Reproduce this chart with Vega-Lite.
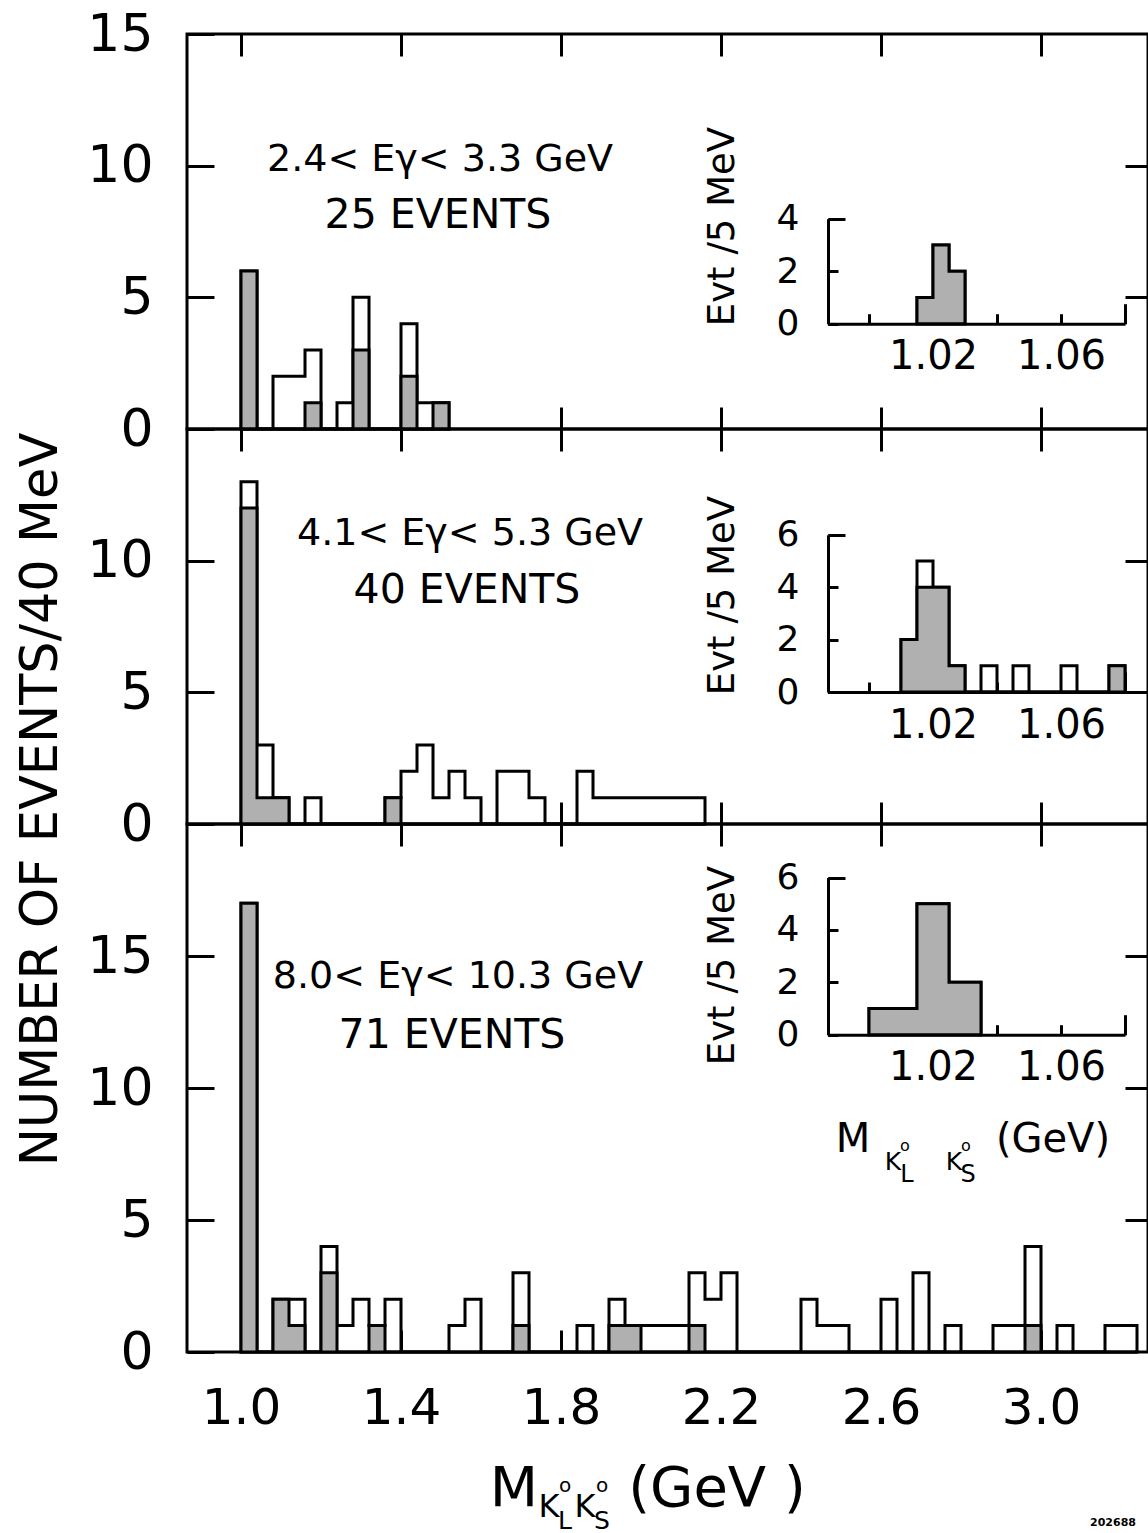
{
  "$schema": "https://vega.github.io/schema/vega-lite/v6.json",
  "background": "white",
  "padding": {"left": 13, "top": 6, "right": 0, "bottom": 0},
  "bounds": "flush",
  "spacing": 0,
  "config": {
    "font": "DejaVu Sans",
    "view": {"stroke": "black", "strokeWidth": 3},
    "axis": {"grid": false, "domain": false, "tickColor": "black", "tickWidth": 3, "labelColor": "black", "titleColor": "black", "labelFont": "DejaVu Sans", "titleFont": "DejaVu Sans", "titleFontWeight": "normal", "domainColor": "black", "domainWidth": 3, "labelOverlap": false, "labelFlush": false},
    "text": {"fill": "black"}
  },
  "datasets": {
    "p1": [
      {"m": 1.00, "total": 6, "shaded": 6}, {"m": 1.04, "total": 0, "shaded": 0}, {"m": 1.08, "total": 2, "shaded": 0}, {"m": 1.12, "total": 2, "shaded": 0},
      {"m": 1.16, "total": 3, "shaded": 1}, {"m": 1.20, "total": 0, "shaded": 0}, {"m": 1.24, "total": 1, "shaded": 0}, {"m": 1.28, "total": 5, "shaded": 3},
      {"m": 1.32, "total": 0, "shaded": 0}, {"m": 1.40, "total": 4, "shaded": 2}, {"m": 1.44, "total": 1, "shaded": 0}, {"m": 1.48, "total": 1, "shaded": 1},
      {"m": 1.52, "total": 0, "shaded": 0}
    ],
    "p2": [
      {"m": 1.00, "total": 13, "shaded": 12}, {"m": 1.04, "total": 3, "shaded": 1}, {"m": 1.08, "total": 1, "shaded": 1}, {"m": 1.12, "total": 0, "shaded": 0},
      {"m": 1.16, "total": 1, "shaded": 0}, {"m": 1.20, "total": 0, "shaded": 0}, {"m": 1.36, "total": 1, "shaded": 1}, {"m": 1.40, "total": 2, "shaded": 0},
      {"m": 1.44, "total": 3, "shaded": 0}, {"m": 1.48, "total": 1, "shaded": 0}, {"m": 1.52, "total": 2, "shaded": 0}, {"m": 1.56, "total": 1, "shaded": 0},
      {"m": 1.60, "total": 0, "shaded": 0}, {"m": 1.64, "total": 2, "shaded": 0}, {"m": 1.68, "total": 2, "shaded": 0}, {"m": 1.72, "total": 1, "shaded": 0},
      {"m": 1.76, "total": 0, "shaded": 0}, {"m": 1.84, "total": 2, "shaded": 0}, {"m": 1.88, "total": 1, "shaded": 0}, {"m": 1.92, "total": 1, "shaded": 0},
      {"m": 1.96, "total": 1, "shaded": 0}, {"m": 2.00, "total": 1, "shaded": 0}, {"m": 2.04, "total": 1, "shaded": 0}, {"m": 2.08, "total": 1, "shaded": 0},
      {"m": 2.12, "total": 1, "shaded": 0}, {"m": 2.16, "total": 0, "shaded": 0}
    ],
    "p3": [
      {"m": 1.00, "total": 17, "shaded": 17}, {"m": 1.04, "total": 0, "shaded": 0}, {"m": 1.08, "total": 2, "shaded": 2}, {"m": 1.12, "total": 2, "shaded": 1},
      {"m": 1.16, "total": 0, "shaded": 0}, {"m": 1.20, "total": 4, "shaded": 3}, {"m": 1.24, "total": 1, "shaded": 0}, {"m": 1.28, "total": 2, "shaded": 0},
      {"m": 1.32, "total": 1, "shaded": 1}, {"m": 1.36, "total": 2, "shaded": 0}, {"m": 1.40, "total": 0, "shaded": 0}, {"m": 1.52, "total": 1, "shaded": 0},
      {"m": 1.56, "total": 2, "shaded": 0}, {"m": 1.60, "total": 0, "shaded": 0}, {"m": 1.68, "total": 3, "shaded": 1}, {"m": 1.72, "total": 0, "shaded": 0},
      {"m": 1.84, "total": 1, "shaded": 0}, {"m": 1.88, "total": 0, "shaded": 0}, {"m": 1.92, "total": 2, "shaded": 1}, {"m": 1.96, "total": 1, "shaded": 1},
      {"m": 2.00, "total": 1, "shaded": 0}, {"m": 2.04, "total": 1, "shaded": 0}, {"m": 2.08, "total": 1, "shaded": 0}, {"m": 2.12, "total": 3, "shaded": 1},
      {"m": 2.16, "total": 2, "shaded": 0}, {"m": 2.20, "total": 3, "shaded": 0}, {"m": 2.24, "total": 0, "shaded": 0}, {"m": 2.40, "total": 2, "shaded": 0},
      {"m": 2.44, "total": 1, "shaded": 0}, {"m": 2.48, "total": 1, "shaded": 0}, {"m": 2.52, "total": 0, "shaded": 0}, {"m": 2.60, "total": 2, "shaded": 0},
      {"m": 2.64, "total": 0, "shaded": 0}, {"m": 2.68, "total": 3, "shaded": 0}, {"m": 2.72, "total": 0, "shaded": 0}, {"m": 2.76, "total": 1, "shaded": 0},
      {"m": 2.80, "total": 0, "shaded": 0}, {"m": 2.88, "total": 1, "shaded": 0}, {"m": 2.92, "total": 1, "shaded": 0}, {"m": 2.96, "total": 4, "shaded": 1},
      {"m": 3.00, "total": 0, "shaded": 0}, {"m": 3.04, "total": 1, "shaded": 0}, {"m": 3.08, "total": 0, "shaded": 0}, {"m": 3.16, "total": 1, "shaded": 0},
      {"m": 3.20, "total": 1, "shaded": 0}, {"m": 3.24, "total": 0, "shaded": 0}
    ],
    "i1": [
      {"m": 1.015, "total": 1, "shaded": 1}, {"m": 1.020, "total": 3, "shaded": 3}, {"m": 1.025, "total": 2, "shaded": 2}, {"m": 1.030, "total": 0, "shaded": 0}
    ],
    "i2": [
      {"m": 1.010, "total": 2, "shaded": 2}, {"m": 1.015, "total": 5, "shaded": 4}, {"m": 1.020, "total": 4, "shaded": 4}, {"m": 1.025, "total": 1, "shaded": 1},
      {"m": 1.030, "total": 0, "shaded": 0}, {"m": 1.035, "total": 1, "shaded": 0}, {"m": 1.040, "total": 0, "shaded": 0}, {"m": 1.045, "total": 1, "shaded": 0},
      {"m": 1.050, "total": 0, "shaded": 0}, {"m": 1.060, "total": 1, "shaded": 0}, {"m": 1.065, "total": 0, "shaded": 0}, {"m": 1.075, "total": 1, "shaded": 1},
      {"m": 1.080, "total": 0, "shaded": 0}
    ],
    "i3": [
      {"m": 1.000, "total": 1, "shaded": 1}, {"m": 1.005, "total": 1, "shaded": 1}, {"m": 1.010, "total": 1, "shaded": 1}, {"m": 1.015, "total": 5, "shaded": 5},
      {"m": 1.020, "total": 5, "shaded": 5}, {"m": 1.025, "total": 2, "shaded": 2}, {"m": 1.030, "total": 2, "shaded": 2}, {"m": 1.035, "total": 0, "shaded": 0}
    ]
  },
  "vconcat": [
    {
      "width": 961, "height": 395,
      "layer": [
        {
          "layer": [
            {"data": {"name": "p1"}, "mark": {"type": "area", "interpolate": "step-after", "fill": "white", "stroke": "black", "strokeWidth": 3},
             "encoding": {
               "x": {"field": "m", "type": "quantitative", "scale": {"domain": [0.865, 3.2675], "nice": false, "zero": false}, "axis": {"orient": "bottom", "values": [1.0, 1.4, 1.8, 2.2, 2.6, 3.0], "tickSize": -22, "labels": false, "title": null}},
               "y": {"field": "total", "type": "quantitative", "stack": null, "scale": {"domain": [0, 15], "nice": false}, "axis": {"orient": "left", "values": [0, 5, 10, 15], "tickSize": -27, "labelFontSize": 52, "labelPadding": 61, "title": null}}
             }},
            {"data": {"name": "p1"}, "mark": {"type": "area", "interpolate": "step-after", "fill": "#b0b0b0", "stroke": "black", "strokeWidth": 3},
             "encoding": {
               "x": {"field": "m", "type": "quantitative", "axis": {"orient": "top", "values": [1.0, 1.4, 1.8, 2.2, 2.6, 3.0], "tickSize": -22, "labels": false, "title": null}},
               "y": {"field": "shaded", "type": "quantitative", "stack": null, "axis": {"orient": "right", "values": [5, 10], "tickSize": -23, "labels": false, "title": null}}
             }},
            {"data": {"values": [{}]}, "mark": {"type": "text", "text": "2.4< Eγ< 3.3 GeV", "fontSize": 38, "align": "center", "baseline": "alphabetic"},
             "encoding": {"x": {"datum": 1.4975, "type": "quantitative", "axis": null}, "y": {"datum": 9.79, "type": "quantitative", "axis": null}}},
            {"data": {"values": [{}]}, "mark": {"type": "text", "text": "25 EVENTS", "fontSize": 41, "align": "center", "baseline": "alphabetic"},
             "encoding": {"x": {"datum": 1.4925, "type": "quantitative", "axis": null}, "y": {"datum": 7.64, "type": "quantitative", "axis": null}}}
          ],
          "resolve": {"axis": {"x": "independent", "y": "independent"}}
        },
        {
          "layer": [
            {"data": {"name": "i1"}, "mark": {"type": "area", "interpolate": "step-after", "fill": "white", "stroke": "black", "strokeWidth": 3},
             "encoding": {
               "x": {"field": "m", "type": "quantitative", "scale": {"domain": [0.987, 1.08], "range": [640.4, 938], "nice": false, "zero": false}, "axis": {"orient": "bottom", "offset": -105.3, "values": [1.0, 1.02, 1.04, 1.06, 1.08], "tickSize": -10, "domain": true, "labelFontSize": 40, "labelPadding": 23, "labelExpr": "datum.value == 1.02 || datum.value == 1.06 ? format(datum.value, '.2f') : ''", "title": null}},
               "y": {"field": "total", "type": "quantitative", "stack": null, "scale": {"domain": [0, 4], "range": [289.7, 184.7], "nice": false}, "axis": {"orient": "left", "offset": -641, "values": [0, 2, 4], "tickSize": -10, "domain": true, "labelFontSize": 36, "labelPadding": 39, "title": "Evt /5 MeV", "titleFontSize": 37, "titleX": -106, "titleY": 192, "titleAngle": -90, "titleAlign": "center", "titleBaseline": "middle"}}
             }},
            {"data": {"name": "i1"}, "mark": {"type": "area", "interpolate": "step-after", "fill": "#b0b0b0", "stroke": "black", "strokeWidth": 3},
             "encoding": {
               "x": {"field": "m", "type": "quantitative", "axis": {"orient": "bottom", "offset": -105.3, "values": [1.08], "tickSize": -20, "labels": false, "title": null}},
               "y": {"field": "shaded", "type": "quantitative", "stack": null, "axis": {"orient": "left", "offset": -641, "values": [4], "tickSize": -17, "labels": false, "title": null}}
             }}
          ],
          "resolve": {"axis": {"x": "independent", "y": "independent"}}
        }
      ],
      "resolve": {"scale": {"x": "independent", "y": "independent"}, "axis": {"x": "independent", "y": "independent"}}
    },
    {
      "width": 961, "height": 395,
      "layer": [
        {
          "layer": [
            {"data": {"name": "p2"}, "mark": {"type": "area", "interpolate": "step-after", "fill": "white", "stroke": "black", "strokeWidth": 3},
             "encoding": {
               "x": {"field": "m", "type": "quantitative", "scale": {"domain": [0.865, 3.2675], "nice": false, "zero": false}, "axis": {"orient": "bottom", "values": [1.0, 1.4, 1.8, 2.2, 2.6, 3.0], "tickSize": -22, "labels": false, "title": null}},
               "y": {"field": "total", "type": "quantitative", "stack": null, "scale": {"domain": [0, 15], "nice": false}, "axis": {"orient": "left", "values": [0, 5, 10], "tickSize": -27, "labelFontSize": 52, "labelPadding": 61, "title": "NUMBER OF EVENTS/40 MeV", "titleFontSize": 51, "titleX": -146, "titleY": 370, "titleAngle": -90, "titleAlign": "center", "titleBaseline": "middle"}}
             }},
            {"data": {"name": "p2"}, "mark": {"type": "area", "interpolate": "step-after", "fill": "#b0b0b0", "stroke": "black", "strokeWidth": 3},
             "encoding": {
               "x": {"field": "m", "type": "quantitative", "axis": {"orient": "top", "values": [1.0, 1.4, 1.8, 2.2, 2.6, 3.0], "tickSize": -22, "labels": false, "title": null}},
               "y": {"field": "shaded", "type": "quantitative", "stack": null, "axis": {"orient": "right", "values": [5, 10], "tickSize": -23, "labels": false, "title": null}}
             }},
            {"data": {"values": [{}]}, "mark": {"type": "text", "text": "4.1< Eγ< 5.3 GeV", "fontSize": 38, "align": "center", "baseline": "alphabetic"},
             "encoding": {"x": {"datum": 1.5725, "type": "quantitative", "axis": null}, "y": {"datum": 10.6, "type": "quantitative", "axis": null}}},
            {"data": {"values": [{}]}, "mark": {"type": "text", "text": "40 EVENTS", "fontSize": 41, "align": "center", "baseline": "alphabetic"},
             "encoding": {"x": {"datum": 1.565, "type": "quantitative", "axis": null}, "y": {"datum": 8.4, "type": "quantitative", "axis": null}}}
          ],
          "resolve": {"axis": {"x": "independent", "y": "independent"}}
        },
        {
          "layer": [
            {"data": {"name": "i2"}, "mark": {"type": "area", "interpolate": "step-after", "fill": "white", "stroke": "black", "strokeWidth": 3},
             "encoding": {
               "x": {"field": "m", "type": "quantitative", "scale": {"domain": [0.987, 1.08], "range": [640.4, 938], "nice": false, "zero": false}, "axis": {"orient": "bottom", "offset": -132, "values": [1.0, 1.02, 1.04, 1.06, 1.08], "tickSize": -10, "domain": true, "labelFontSize": 40, "labelPadding": 23, "labelExpr": "datum.value == 1.02 || datum.value == 1.06 ? format(datum.value, '.2f') : ''", "title": null}},
               "y": {"field": "total", "type": "quantitative", "stack": null, "scale": {"domain": [0, 6], "range": [263, 105.8], "nice": false}, "axis": {"orient": "left", "offset": -641, "values": [0, 2, 4, 6], "tickSize": -10, "domain": true, "labelFontSize": 36, "labelPadding": 39, "title": "Evt /5 MeV", "titleFontSize": 37, "titleX": -106, "titleY": 166, "titleAngle": -90, "titleAlign": "center", "titleBaseline": "middle"}}
             }},
            {"data": {"name": "i2"}, "mark": {"type": "area", "interpolate": "step-after", "fill": "#b0b0b0", "stroke": "black", "strokeWidth": 3},
             "encoding": {
               "x": {"field": "m", "type": "quantitative", "axis": {"orient": "bottom", "offset": -132, "values": [1.08], "tickSize": -20, "labels": false, "title": null}},
               "y": {"field": "shaded", "type": "quantitative", "stack": null, "axis": {"orient": "left", "offset": -641, "values": [6], "tickSize": -17, "labels": false, "title": null}}
             }}
          ],
          "resolve": {"axis": {"x": "independent", "y": "independent"}}
        }
      ],
      "resolve": {"scale": {"x": "independent", "y": "independent"}, "axis": {"x": "independent", "y": "independent"}}
    },
    {
      "width": 961, "height": 528,
      "layer": [
        {
          "layer": [
            {"data": {"name": "p3"}, "mark": {"type": "area", "interpolate": "step-after", "fill": "white", "stroke": "black", "strokeWidth": 3},
             "encoding": {
               "x": {"field": "m", "type": "quantitative", "scale": {"domain": [0.865, 3.2675], "nice": false, "zero": false}, "axis": {"orient": "bottom", "values": [1.0, 1.4, 1.8, 2.2, 2.6, 3.0], "tickSize": -22, "labelFontSize": 50, "labelPadding": 53, "format": ".1f", "title": null}},
               "y": {"field": "total", "type": "quantitative", "stack": null, "scale": {"domain": [0, 20], "nice": false}, "axis": {"orient": "left", "values": [0, 5, 10, 15], "tickSize": -27, "labelFontSize": 52, "labelPadding": 61, "title": null}}
             }},
            {"data": {"name": "p3"}, "mark": {"type": "area", "interpolate": "step-after", "fill": "#b0b0b0", "stroke": "black", "strokeWidth": 3},
             "encoding": {
               "x": {"field": "m", "type": "quantitative", "axis": {"orient": "top", "values": [1.0, 1.4, 1.8, 2.2, 2.6, 3.0], "tickSize": -22, "labels": false, "title": null}},
               "y": {"field": "shaded", "type": "quantitative", "stack": null, "axis": {"orient": "right", "values": [5, 10, 15], "tickSize": -23, "labels": false, "title": null}}
             }},
            {"data": {"values": [{}]}, "mark": {"type": "text", "text": "8.0< Eγ< 10.3 GeV", "fontSize": 38, "align": "center", "baseline": "alphabetic"},
             "encoding": {"x": {"datum": 1.5425, "type": "quantitative", "axis": null}, "y": {"datum": 13.8, "type": "quantitative", "axis": null}}},
            {"data": {"values": [{}]}, "mark": {"type": "text", "text": "71 EVENTS", "fontSize": 41, "align": "center", "baseline": "alphabetic"},
             "encoding": {"x": {"datum": 1.5275, "type": "quantitative", "axis": null}, "y": {"datum": 11.52, "type": "quantitative", "axis": null}}},
            {"data": {"values": [{}]}, "mark": {"type": "text", "text": "M", "fontSize": 56, "align": "center", "baseline": "alphabetic"},
             "encoding": {"x": {"datum": 1.6825, "type": "quantitative", "axis": null}, "y": {"datum": -5.833, "type": "quantitative", "axis": null}}},
            {"data": {"values": [{}]}, "mark": {"type": "text", "text": "K", "fontSize": 32, "align": "center", "baseline": "alphabetic"},
             "encoding": {"x": {"datum": 1.77, "type": "quantitative", "axis": null}, "y": {"datum": -6.25, "type": "quantitative", "axis": null}}},
            {"data": {"values": [{}]}, "mark": {"type": "text", "text": "o", "fontSize": 20, "align": "center", "baseline": "alphabetic"},
             "encoding": {"x": {"datum": 1.81, "type": "quantitative", "axis": null}, "y": {"datum": -5.3, "type": "quantitative", "axis": null}}},
            {"data": {"values": [{}]}, "mark": {"type": "text", "text": "L", "fontSize": 25, "align": "center", "baseline": "alphabetic"},
             "encoding": {"x": {"datum": 1.81, "type": "quantitative", "axis": null}, "y": {"datum": -6.72, "type": "quantitative", "axis": null}}},
            {"data": {"values": [{}]}, "mark": {"type": "text", "text": "K", "fontSize": 32, "align": "center", "baseline": "alphabetic"},
             "encoding": {"x": {"datum": 1.86, "type": "quantitative", "axis": null}, "y": {"datum": -6.25, "type": "quantitative", "axis": null}}},
            {"data": {"values": [{}]}, "mark": {"type": "text", "text": "o", "fontSize": 20, "align": "center", "baseline": "alphabetic"},
             "encoding": {"x": {"datum": 1.9025, "type": "quantitative", "axis": null}, "y": {"datum": -5.3, "type": "quantitative", "axis": null}}},
            {"data": {"values": [{}]}, "mark": {"type": "text", "text": "S", "fontSize": 25, "align": "center", "baseline": "alphabetic"},
             "encoding": {"x": {"datum": 1.9025, "type": "quantitative", "axis": null}, "y": {"datum": -6.72, "type": "quantitative", "axis": null}}},
            {"data": {"values": [{}]}, "mark": {"type": "text", "text": "(GeV )", "fontSize": 56, "align": "center", "baseline": "alphabetic"},
             "encoding": {"x": {"datum": 2.19, "type": "quantitative", "axis": null}, "y": {"datum": -5.833, "type": "quantitative", "axis": null}}},
            {"data": {"values": [{}]}, "mark": {"type": "text", "text": "M", "fontSize": 40, "align": "center", "baseline": "alphabetic"},
             "encoding": {"x": {"datum": 2.53, "type": "quantitative", "axis": null}, "y": {"datum": 7.576, "type": "quantitative", "axis": null}}},
            {"data": {"values": [{}]}, "mark": {"type": "text", "text": "K", "fontSize": 25, "align": "center", "baseline": "alphabetic"},
             "encoding": {"x": {"datum": 2.63, "type": "quantitative", "axis": null}, "y": {"datum": 6.894, "type": "quantitative", "axis": null}}},
            {"data": {"values": [{}]}, "mark": {"type": "text", "text": "o", "fontSize": 16, "align": "center", "baseline": "alphabetic"},
             "encoding": {"x": {"datum": 2.66, "type": "quantitative", "axis": null}, "y": {"datum": 7.614, "type": "quantitative", "axis": null}}},
            {"data": {"values": [{}]}, "mark": {"type": "text", "text": "L", "fontSize": 24, "align": "center", "baseline": "alphabetic"},
             "encoding": {"x": {"datum": 2.665, "type": "quantitative", "axis": null}, "y": {"datum": 6.439, "type": "quantitative", "axis": null}}},
            {"data": {"values": [{}]}, "mark": {"type": "text", "text": "K", "fontSize": 25, "align": "center", "baseline": "alphabetic"},
             "encoding": {"x": {"datum": 2.7825, "type": "quantitative", "axis": null}, "y": {"datum": 6.894, "type": "quantitative", "axis": null}}},
            {"data": {"values": [{}]}, "mark": {"type": "text", "text": "o", "fontSize": 16, "align": "center", "baseline": "alphabetic"},
             "encoding": {"x": {"datum": 2.8125, "type": "quantitative", "axis": null}, "y": {"datum": 7.614, "type": "quantitative", "axis": null}}},
            {"data": {"values": [{}]}, "mark": {"type": "text", "text": "S", "fontSize": 24, "align": "center", "baseline": "alphabetic"},
             "encoding": {"x": {"datum": 2.8175, "type": "quantitative", "axis": null}, "y": {"datum": 6.439, "type": "quantitative", "axis": null}}},
            {"data": {"values": [{}]}, "mark": {"type": "text", "text": "(GeV)", "fontSize": 40, "align": "center", "baseline": "alphabetic"},
             "encoding": {"x": {"datum": 3.03, "type": "quantitative", "axis": null}, "y": {"datum": 7.576, "type": "quantitative", "axis": null}}},
            {"data": {"values": [{}]}, "mark": {"type": "text", "text": "202688", "fontSize": 11, "fontWeight": "bold", "align": "center", "baseline": "alphabetic"},
             "encoding": {"x": {"datum": 3.18, "type": "quantitative", "axis": null}, "y": {"datum": -6.6, "type": "quantitative", "axis": null}}}
          ],
          "resolve": {"axis": {"x": "independent", "y": "independent"}}
        },
        {
          "layer": [
            {"data": {"name": "i3"}, "mark": {"type": "area", "interpolate": "step-after", "fill": "white", "stroke": "black", "strokeWidth": 3},
             "encoding": {
               "x": {"field": "m", "type": "quantitative", "scale": {"domain": [0.987, 1.08], "range": [640.4, 938], "nice": false, "zero": false}, "axis": {"orient": "bottom", "offset": -317.3, "values": [1.0, 1.02, 1.04, 1.06, 1.08], "tickSize": -10, "domain": true, "labelFontSize": 40, "labelPadding": 23, "labelExpr": "datum.value == 1.02 || datum.value == 1.06 ? format(datum.value, '.2f') : ''", "title": null}},
               "y": {"field": "total", "type": "quantitative", "stack": null, "scale": {"domain": [0, 6], "range": [210.7, 53.5], "nice": false}, "axis": {"orient": "left", "offset": -641, "values": [0, 2, 4, 6], "tickSize": -10, "domain": true, "labelFontSize": 36, "labelPadding": 39, "title": "Evt /5 MeV", "titleFontSize": 37, "titleX": -106, "titleY": 141, "titleAngle": -90, "titleAlign": "center", "titleBaseline": "middle"}}
             }},
            {"data": {"name": "i3"}, "mark": {"type": "area", "interpolate": "step-after", "fill": "#b0b0b0", "stroke": "black", "strokeWidth": 3},
             "encoding": {
               "x": {"field": "m", "type": "quantitative", "axis": {"orient": "bottom", "offset": -317.3, "values": [1.08], "tickSize": -20, "labels": false, "title": null}},
               "y": {"field": "shaded", "type": "quantitative", "stack": null, "axis": {"orient": "left", "offset": -641, "values": [6], "tickSize": -17, "labels": false, "title": null}}
             }}
          ],
          "resolve": {"axis": {"x": "independent", "y": "independent"}}
        }
      ],
      "resolve": {"scale": {"x": "independent", "y": "independent"}, "axis": {"x": "independent", "y": "independent"}}
    }
  ]
}
